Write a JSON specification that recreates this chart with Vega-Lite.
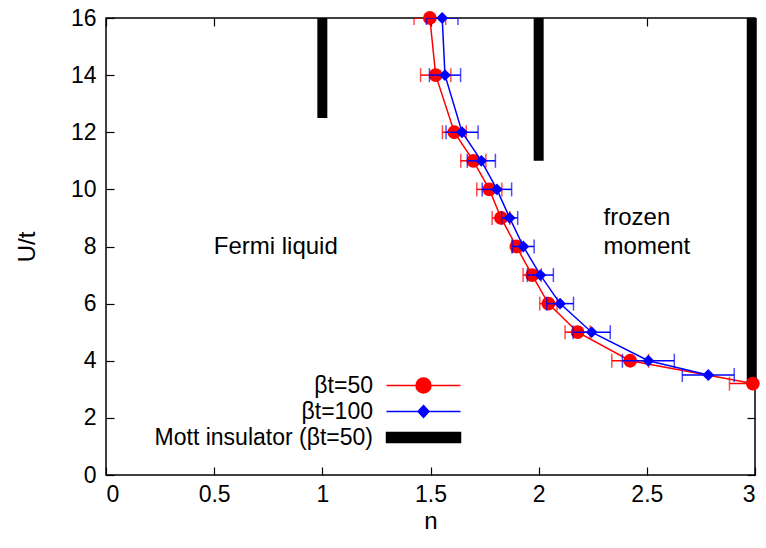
{
  "$schema": "https://vega.github.io/schema/vega-lite/v6.json",
  "width": 649,
  "height": 457,
  "autosize": {"type": "none"},
  "padding": {"left": 106, "top": 18, "right": 11, "bottom": 73},
  "background": "white",
  "config": {
    "view": {"stroke": "black", "strokeWidth": 1.5},
    "font": "Liberation Sans",
    "axis": {
      "domain": false, "grid": false, "ticks": true, "tickSize": -8,
      "tickColor": "black", "tickWidth": 1.2,
      "labelFont": "Liberation Sans", "labelFontSize": 23, "labelColor": "black",
      "titleFont": "Liberation Sans", "titleFontSize": 24, "titleFontWeight": "normal", "titleColor": "black"
    }
  },
  "datasets": {
    "mott": [
      {"s": "Mott insulator (βt=50)", "n": 1, "U0": 12.5, "U1": 16},
      {"s": "Mott insulator (βt=50)", "n": 2, "U0": 11, "U1": 16},
      {"s": "Mott insulator (βt=50)", "n": 2.985, "U0": 3.2, "U1": 16}
    ],
    "pts": [
      {"s": "βt=50", "U": 16, "n": 1.497, "lo": 1.424, "hi": 1.570},
      {"s": "βt=50", "U": 14, "n": 1.524, "lo": 1.454, "hi": 1.594},
      {"s": "βt=50", "U": 12, "n": 1.610, "lo": 1.555, "hi": 1.665},
      {"s": "βt=50", "U": 11, "n": 1.698, "lo": 1.640, "hi": 1.756},
      {"s": "βt=50", "U": 10, "n": 1.772, "lo": 1.714, "hi": 1.830},
      {"s": "βt=50", "U": 9, "n": 1.826, "lo": 1.785, "hi": 1.867},
      {"s": "βt=50", "U": 8, "n": 1.897, "lo": 1.875, "hi": 1.919},
      {"s": "βt=50", "U": 7, "n": 1.970, "lo": 1.928, "hi": 2.012},
      {"s": "βt=50", "U": 6, "n": 2.045, "lo": 2.005, "hi": 2.085},
      {"s": "βt=50", "U": 5, "n": 2.180, "lo": 2.122, "hi": 2.238},
      {"s": "βt=50", "U": 4, "n": 2.423, "lo": 2.338, "hi": 2.508},
      {"s": "βt=50", "U": 3.2, "n": 2.990, "lo": 2.882, "hi": 3.098},
      {"s": "βt=100", "U": 16, "n": 1.554, "lo": 1.481, "hi": 1.627},
      {"s": "βt=100", "U": 14, "n": 1.567, "lo": 1.495, "hi": 1.639},
      {"s": "βt=100", "U": 12, "n": 1.646, "lo": 1.572, "hi": 1.720},
      {"s": "βt=100", "U": 11, "n": 1.735, "lo": 1.670, "hi": 1.800},
      {"s": "βt=100", "U": 10, "n": 1.807, "lo": 1.739, "hi": 1.875},
      {"s": "βt=100", "U": 9, "n": 1.866, "lo": 1.829, "hi": 1.903},
      {"s": "βt=100", "U": 8, "n": 1.929, "lo": 1.879, "hi": 1.979},
      {"s": "βt=100", "U": 7, "n": 2.008, "lo": 1.948, "hi": 2.068},
      {"s": "βt=100", "U": 6, "n": 2.099, "lo": 2.037, "hi": 2.161},
      {"s": "βt=100", "U": 5, "n": 2.245, "lo": 2.159, "hi": 2.331},
      {"s": "βt=100", "U": 4, "n": 2.507, "lo": 2.387, "hi": 2.627},
      {"s": "βt=100", "U": 3.5, "n": 2.784, "lo": 2.664, "hi": 2.904}
    ],
    "labels": [
      {"t": "Fermi liquid", "n": 0.498, "U": 8},
      {"t": "frozen", "n": 2.30, "U": 9.0},
      {"t": "moment", "n": 2.30, "U": 8.0}
    ]
  },
  "layer": [
    {
      "data": {"name": "mott"},
      "mark": {"type": "rule", "strokeWidth": 10},
      "encoding": {
        "x": {"field": "n", "type": "quantitative",
              "scale": {"domain": [0, 3], "nice": false, "zero": false},
              "axis": {"orient": "bottom", "values": [0, 0.5, 1, 1.5, 2, 2.5, 3], "format": "~g", "labelPadding": 16, "title": "n", "titlePadding": 3}},
        "y": {"field": "U0", "type": "quantitative",
              "scale": {"domain": [0, 16], "nice": false, "zero": false},
              "axis": {"orient": "left", "values": [0, 2, 4, 6, 8, 10, 12, 14, 16], "labelPadding": 18, "title": "U/t", "titlePadding": 31}},
        "y2": {"field": "U1"},
        "color": {
          "field": "s", "type": "nominal",
          "scale": {"domain": ["βt=50", "βt=100", "Mott insulator (βt=50)"], "range": ["#ff0000", "#0000ff", "#000000"]},
          "legend": {
            "orient": "none", "legendX": 306, "legendY": 356, "title": null,
            "padding": 0, "rowPadding": 2,
            "labelAlign": "right", "labelOffset": -62, "labelLimit": 400,
            "labelFontSize": 23, "labelFont": "Liberation Sans", "labelColor": "black",
            "symbolSize": 400, "symbolStrokeWidth": 1.5,
            "encode": {
              "symbols": {
                "update": {
                  "shape": {"signal": "datum.value === 'βt=50' ? 'M-3.7,0L3.7,0M0.75,0A0.75,0.75,0,1,1,-0.75,0A0.75,0.75,0,1,1,0.75,0Z' : (datum.value === 'βt=100' ? 'M-3.7,0L3.7,0M0,-0.6L0.55,0L0,0.6L-0.55,0Z' : 'M-3.7,-0.5L3.7,-0.5L3.7,0.5L-3.7,0.5Z')"},
                  "fill": {"signal": "datum.value === 'βt=50' ? '#ff0000' : (datum.value === 'βt=100' ? '#0000ff' : '#000000')"},
                  "stroke": {"signal": "datum.value === 'βt=50' ? '#ff0000' : (datum.value === 'βt=100' ? '#0000ff' : '#000000')"},
                  "opacity": {"value": 1},
                  "fillOpacity": {"value": 1},
                  "strokeOpacity": {"value": 1}
                }
              }
            }
          }
        }
      }
    },
    {
      "data": {"name": "pts"},
      "transform": [{"filter": "datum.s === 'βt=50'"}],
      "layer": [
        {"mark": {"type": "rule", "strokeWidth": 1.5, "clip": true},
         "encoding": {"x": {"field": "lo", "type": "quantitative", "axis": null}, "x2": {"field": "hi"},
                      "y": {"field": "U", "type": "quantitative", "axis": null},
                      "color": {"field": "s", "type": "nominal", "legend": null}}},
        {"mark": {"type": "tick", "orient": "vertical", "size": 14, "thickness": 1.5, "clip": true},
         "encoding": {"x": {"field": "lo", "type": "quantitative", "axis": null},
                      "y": {"field": "U", "type": "quantitative", "axis": null},
                      "color": {"field": "s", "type": "nominal", "legend": null}}},
        {"mark": {"type": "tick", "orient": "vertical", "size": 14, "thickness": 1.5, "clip": true},
         "encoding": {"x": {"field": "hi", "type": "quantitative", "axis": null},
                      "y": {"field": "U", "type": "quantitative", "axis": null},
                      "color": {"field": "s", "type": "nominal", "legend": null}}},
        {"mark": {"type": "line", "strokeWidth": 1.5},
         "encoding": {"x": {"field": "n", "type": "quantitative", "axis": null},
                      "y": {"field": "U", "type": "quantitative", "axis": null},
                      "order": {"field": "U", "type": "quantitative"},
                      "color": {"field": "s", "type": "nominal", "legend": null}}},
        {"mark": {"type": "point", "shape": "circle", "filled": true, "size": 190, "opacity": 1},
         "encoding": {"x": {"field": "n", "type": "quantitative", "axis": null},
                      "y": {"field": "U", "type": "quantitative", "axis": null},
                      "color": {"field": "s", "type": "nominal", "legend": null}}}
      ]
    },
    {
      "data": {"name": "pts"},
      "transform": [{"filter": "datum.s === 'βt=100'"}],
      "layer": [
        {"mark": {"type": "rule", "strokeWidth": 1.5, "clip": true},
         "encoding": {"x": {"field": "lo", "type": "quantitative", "axis": null}, "x2": {"field": "hi"},
                      "y": {"field": "U", "type": "quantitative", "axis": null},
                      "color": {"field": "s", "type": "nominal", "legend": null}}},
        {"mark": {"type": "tick", "orient": "vertical", "size": 14, "thickness": 1.5, "clip": true},
         "encoding": {"x": {"field": "lo", "type": "quantitative", "axis": null},
                      "y": {"field": "U", "type": "quantitative", "axis": null},
                      "color": {"field": "s", "type": "nominal", "legend": null}}},
        {"mark": {"type": "tick", "orient": "vertical", "size": 14, "thickness": 1.5, "clip": true},
         "encoding": {"x": {"field": "hi", "type": "quantitative", "axis": null},
                      "y": {"field": "U", "type": "quantitative", "axis": null},
                      "color": {"field": "s", "type": "nominal", "legend": null}}},
        {"mark": {"type": "line", "strokeWidth": 1.5},
         "encoding": {"x": {"field": "n", "type": "quantitative", "axis": null},
                      "y": {"field": "U", "type": "quantitative", "axis": null},
                      "order": {"field": "U", "type": "quantitative"},
                      "color": {"field": "s", "type": "nominal", "legend": null}}},
        {"mark": {"type": "point", "shape": "diamond", "filled": true, "size": 140, "opacity": 1},
         "encoding": {"x": {"field": "n", "type": "quantitative", "axis": null},
                      "y": {"field": "U", "type": "quantitative", "axis": null},
                      "color": {"field": "s", "type": "nominal", "legend": null}}}
      ]
    },
    {
      "data": {"name": "labels"},
      "mark": {"type": "text", "fontSize": 24, "font": "Liberation Sans", "color": "black", "align": "left", "baseline": "middle"},
      "encoding": {
        "x": {"field": "n", "type": "quantitative",
              "axis": {"orient": "top", "values": [0, 0.5, 1, 1.5, 2, 2.5, 3], "labels": false, "title": null}},
        "y": {"field": "U", "type": "quantitative",
              "axis": {"orient": "right", "values": [0, 2, 4, 6, 8, 10, 12, 14, 16], "labels": false, "title": null}},
        "text": {"field": "t"}
      }
    }
  ],
  "resolve": {"axis": {"x": "independent", "y": "independent"}}
}
